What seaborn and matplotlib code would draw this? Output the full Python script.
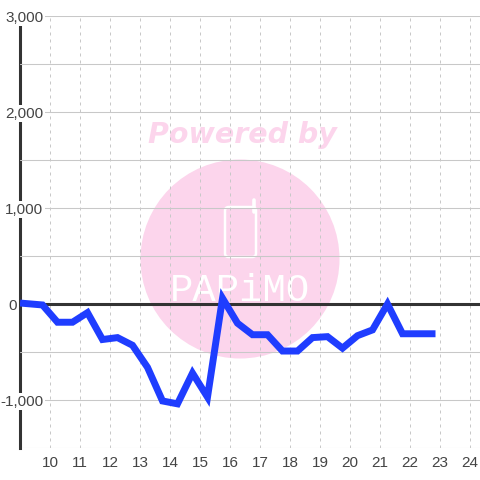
import matplotlib
matplotlib.use("Agg")
import matplotlib.pyplot as plt
import pandas as pd
import seaborn as sns
from matplotlib.patches import Circle, FancyBboxPatch

# half hour readings
hours = [9.0, 9.75, 10.25, 10.75, 11.25, 11.75, 12.25, 12.75, 13.25, 13.75,
         14.25, 14.75, 15.25, 15.75, 16.25, 16.75, 17.25, 17.75, 18.25, 18.75,
         19.25, 19.75, 20.25, 20.75, 21.25, 21.75, 22.25, 22.85]
values = [10, -10, -190, -190, -90, -370, -350, -430, -660, -1010,
          -1040, -720, -970, 60, -200, -320, -320, -490, -490, -350,
          -340, -460, -330, -270, 0, -310, -310, -310]
x_ticks = list(range(10, 25))
y_major = [-1000, 0, 1000, 2000, 3000]
y_grid = [-1500, -1000, -500, 0, 500, 1000, 1500, 2000, 2500, 3000]

sns.set_style("white")
plt.rcParams['font.family'] = ['Liberation Sans', 'DejaVu Sans']

PINK = '#fcd5ec'
GRID = '#c8c8c8'
TEXT = '#444444'


def pix(x, y):
    # reference pixels (origin top left) to figure fraction
    return x / 480, 1 - y / 480


df = pd.DataFrame({'hour': hours, 'value': values})

fig = plt.figure(figsize=(4.8, 4.8), dpi=100)
ax = fig.add_axes([20 / 480, 32 / 480, 460 / 480, 432 / 480])

sns.lineplot(data=df, x='hour', y='value', ax=ax, color='#1f3dff', linewidth=5.0,
             solid_joinstyle='miter', solid_capstyle='butt', zorder=4, clip_on=True)
ax.axhline(0, color='#333333', linewidth=2.2, zorder=3)

ax.set_xlim(9, 24 + 1 / 3)
ax.set_ylim(-1500, 3000)
ax.set_xlabel('')
ax.set_ylabel('')

# watermark sits under the grid
ax.add_patch(Circle(pix(240, 259), 99.5 / 480, transform=fig.transFigure,
                    facecolor=PINK, edgecolor='none', zorder=0.1))
ax.add_patch(FancyBboxPatch(pix(225, 257), 31 / 480, 50 / 480, transform=fig.transFigure,
                            boxstyle='round,pad=0,rounding_size=0.008', facecolor='none',
                            edgecolor='white', linewidth=1.8, zorder=0.2))
ax.add_line(plt.Line2D([254 / 480, 254 / 480], [1 - 200 / 480, 1 - 212 / 480],
                       transform=fig.transFigure, color='white', linewidth=2.6, zorder=0.2))
ax.text(*pix(242, 135), 'Powered by', transform=fig.transFigure, ha='center', va='center',
        fontsize=20.5, fontweight='bold', fontstyle='italic', family='DejaVu Sans',
        color=PINK, zorder=0.2)
ax.text(*pix(240, 291), 'PAPiMO', transform=fig.transFigure, ha='center', va='center',
        fontsize=28, family='Liberation Mono', color='white', zorder=0.2)

ax.set_xticks(x_ticks)
ax.set_yticks(y_grid)
ax.set_yticklabels([f'{v:,}' if v in y_major else '' for v in y_grid])
ax.set_axisbelow(True)
ax.grid(axis='y', color=GRID, linewidth=0.75, linestyle='-')
ax.grid(axis='x', color=GRID, linewidth=0.72, linestyle=(0, (3, 4)))
ax.tick_params(axis='both', length=0, labelsize=11, labelcolor=TEXT)
ax.tick_params(axis='x', pad=5.5)
ax.tick_params(axis='y', pad=-23.5 * 0.72)

# the labels sit on top of the left axis with a white backing
for tick, v in zip(ax.yaxis.get_major_ticks(), y_grid):
    if v in y_major:
        tick.label1.set_bbox(dict(facecolor='white', edgecolor='none', pad=0.8))
    if v == 0:
        tick.set_pad(2.5)

for side in ['top', 'right', 'bottom']:
    ax.spines[side].set_visible(False)
ax.spines['left'].set_color('#333333')
ax.spines['left'].set_linewidth(2.2)
ax.spines['left'].set_zorder(0.4)

fig.savefig('out.png', dpi=100, facecolor='white')
